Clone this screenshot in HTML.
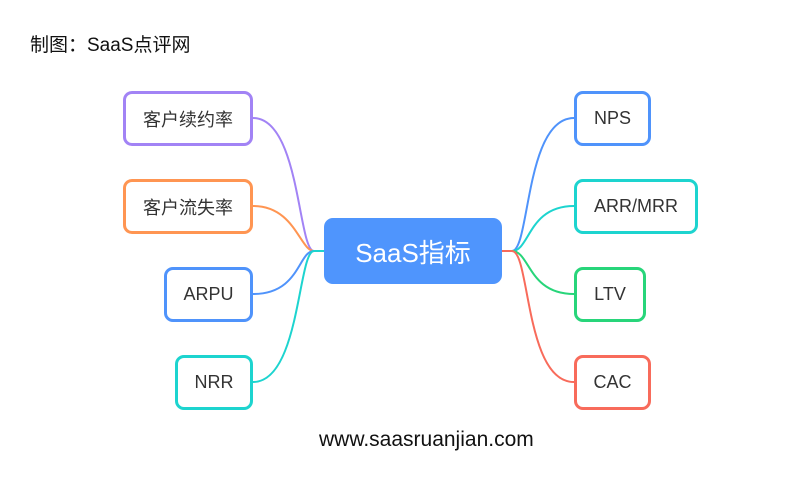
<html><head><style>
body{margin:0;width:793px;height:500px;background:#fff;position:relative;font-family:"Liberation Sans","Noto Sans CJK SC",sans-serif;overflow:hidden}
.b{position:absolute;box-sizing:border-box;border:3px solid;border-radius:9px;background:#fff;display:flex;align-items:center;justify-content:center;font-size:18px;color:#333}
.t{position:absolute;font-size:19px;color:#111}
</style></head><body>
<div class="t" style="left:30px;top:30px">制图：SaaS点评网</div>
<svg width="793" height="500" style="position:absolute;left:0;top:0" fill="none" stroke-width="2">
<path d="M253 118 C300 118 298 251 314 251 L324 251" stroke="#a283f5"/>
<path d="M253 206 C295 206 300 251 314 251" stroke="#ff9552"/>
<path d="M253 294 C300 294 298 251 314 251" stroke="#4f93fb"/>
<path d="M253 382 C300 382 298 251 314 251 L324 251" stroke="#1dd4cf"/>
<path d="M502 251 L512 251 C530 251 525 118 574 118" stroke="#4f93fb"/>
<path d="M512 251 C530 251 528 206 574 206" stroke="#1dd4cf"/>
<path d="M512 251 C530 251 528 294 574 294" stroke="#28d57a"/>
<path d="M502 251 L512 251 C530 251 525 382 574 382" stroke="#f86b5b"/>
</svg>
<div class="b" style="left:324px;top:218px;width:178px;height:66px;background:#4f95fd;border-color:#4f95fd;color:#fff;font-size:26px">SaaS指标</div>
<div class="b" style="left:123px;top:91px;width:130px;height:55px;border-color:#a283f5">客户续约率</div>
<div class="b" style="left:123px;top:179px;width:130px;height:55px;border-color:#ff9552">客户流失率</div>
<div class="b" style="left:164px;top:267px;width:89px;height:55px;border-color:#4f93fb">ARPU</div>
<div class="b" style="left:175px;top:355px;width:78px;height:55px;border-color:#1dd4cf">NRR</div>
<div class="b" style="left:574px;top:91px;width:77px;height:55px;border-color:#4f93fb">NPS</div>
<div class="b" style="left:574px;top:179px;width:124px;height:55px;border-color:#1dd4cf">ARR/MRR</div>
<div class="b" style="left:574px;top:267px;width:72px;height:55px;border-color:#28d57a">LTV</div>
<div class="b" style="left:574px;top:355px;width:77px;height:55px;border-color:#f86b5b">CAC</div>
<div class="t" style="left:319px;top:428px;font-size:21px">www.saasruanjian.com</div>
</body></html>
